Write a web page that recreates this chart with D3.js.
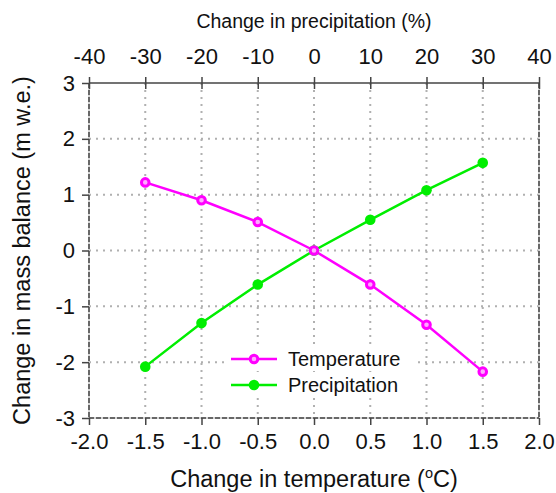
<!DOCTYPE html>
<html><head><meta charset="utf-8">
<script src="https://cdn.jsdelivr.net/npm/d3@7"></script>
<style>
body{margin:0;background:#fff;}
text{font-family:"Liberation Sans",Arial,sans-serif;}
</style></head>
<body><svg id="c" width="556" height="493"></svg>
<script>
const tempX = [-1.5, -1.0, -0.5, 0, 0.5, 1.0, 1.5];
const tempY = [1.22, 0.90, 0.51, 0, -0.61, -1.33, -2.17];
const precX = [-30, -20, -10, 0, 10, 20, 30];
const precY = [-2.08, -1.30, -0.61, 0, 0.55, 1.08, 1.57];
const bottomTicks = [-2.0, -1.5, -1.0, -0.5, 0, 0.5, 1.0, 1.5, 2.0];
const topTicks = [-40, -30, -20, -10, 0, 10, 20, 30, 40];
const yTicks = [-3, -2, -1, 0, 1, 2, 3];
const seriesNames = ["Temperature", "Precipitation"];

const svg = d3.select("#c");
const L = 89, R = 539, T = 83, B = 418;
const x = d3.scaleLinear().domain([-2, 2]).range([L, R]);
const xp = d3.scaleLinear().domain([-40, 40]).range([L, R]);
const y = d3.scaleLinear().domain([-3, 3]).range([B, T]);

// grid
const g = svg.append("g");
g.selectAll(".gv").data(bottomTicks.filter(d => d > -2 && d < 2)).enter().append("line")
  .attr("x1", d => x(d)).attr("x2", d => x(d)).attr("y1", T).attr("y2", B)
  .attr("stroke", "#b0b0b0").attr("stroke-width", 2).attr("stroke-dasharray", "2,5");
g.selectAll(".gh").data(yTicks.filter(d => d > -3 && d < 3)).enter().append("line")
  .attr("x1", L).attr("x2", R).attr("y1", d => y(d)).attr("y2", d => y(d))
  .attr("stroke", "#b0b0b0").attr("stroke-width", 2).attr("stroke-dasharray", "2,5");

// frame (left/right/bottom dashed)
[[L, T, L, B], [R, T, R, B], [L, B, R, B]].forEach(c => {
  svg.append("line").attr("x1", c[0]).attr("y1", c[1]).attr("x2", c[2]).attr("y2", c[3])
    .attr("stroke", "#c8c8c8").attr("stroke-width", 1.5);
  svg.append("line").attr("x1", c[0]).attr("y1", c[1]).attr("x2", c[2]).attr("y2", c[3])
    .attr("stroke", "#444").attr("stroke-width", 1.5).attr("stroke-dasharray", "5,2");
});

function styleAxis(sel) {
  sel.select(".domain").remove();
  sel.selectAll(".tick line").attr("stroke", "#444").attr("stroke-width", 1.5);
  sel.selectAll(".tick text").attr("font-size", 22).attr("fill", "#111")
    .style("font-family", '"Liberation Sans",Arial,sans-serif');
}

// bottom axis
const ax = svg.append("g").attr("transform", `translate(0,${B})`)
  .call(d3.axisBottom(x).tickValues(bottomTicks).tickFormat(d => d.toFixed(1)).tickSize(7).tickPadding(8));
styleAxis(ax);

// top axis
svg.append("line").attr("x1", L).attr("x2", R).attr("y1", T).attr("y2", T)
  .attr("stroke", "#444").attr("stroke-width", 1.5);
const axt = svg.append("g").attr("transform", `translate(0,${T})`)
  .call(d3.axisTop(xp).tickValues(topTicks).tickFormat(d => String(d)).tickSize(6).tickPadding(13));
styleAxis(axt);
axt.selectAll(".tick line").attr("y2", 6).attr("y1", -6);

// left axis
const ay = svg.append("g").attr("transform", `translate(${L},0)`)
  .call(d3.axisLeft(y).tickValues(yTicks).tickFormat(d => String(d)).tickSize(7).tickPadding(7));
styleAxis(ay);

// titles
svg.append("text").attr("x", 314).attr("y", 28).attr("text-anchor", "middle")
  .attr("font-size", 19.5).attr("fill", "#111").text("Change in precipitation (%)");
const bt = svg.append("text").attr("x", 314).attr("y", 487).attr("text-anchor", "middle")
  .attr("font-size", 23.5).attr("fill", "#111");
bt.append("tspan").text("Change in temperature (");
bt.append("tspan").attr("font-size", 14.5).attr("dy", -9).text("o");
bt.append("tspan").attr("dy", 9).text("C)");
svg.append("text").attr("transform", `translate(30,${(T + B) / 2}) rotate(-90)`)
  .attr("text-anchor", "middle").attr("font-size", 23.5).attr("fill", "#111")
  .text("Change in mass balance (m w.e.)");

// series
const magenta = "#ff00ff", green = "#00ee00";
const tData = tempX.map((v, i) => [x(v), y(tempY[i])]);
const pData = precX.map((v, i) => [xp(v), y(precY[i])]);
const line = d3.line();
svg.append("path").attr("d", line(tData)).attr("fill", "none").attr("stroke", magenta).attr("stroke-width", 2.5);
svg.append("path").attr("d", line(pData)).attr("fill", "none").attr("stroke", green).attr("stroke-width", 2.5);
function magMarker(sel, cx, cy) {
  sel.append("circle").attr("cx", cx).attr("cy", cy).attr("r", 3.8)
    .attr("fill", "#ffaaff").attr("stroke", magenta).attr("stroke-width", 3);
}
function grnMarker(sel, cx, cy) {
  sel.append("circle").attr("cx", cx).attr("cy", cy).attr("r", 5.3).attr("fill", green);
}
pData.forEach(p => grnMarker(svg, p[0], p[1]));
tData.forEach(p => magMarker(svg, p[0], p[1]));

// legend
const legY = [359, 385];
const cols = [magenta, green];
legY.forEach((ly, i) => {
  svg.append("rect").attr("x", 226).attr("y", ly - 12).attr("width", 190).attr("height", 24).attr("fill", "#fff");
});
legY.forEach((ly, i) => {
  svg.append("line").attr("x1", 231).attr("x2", 277).attr("y1", ly).attr("y2", ly)
    .attr("stroke", cols[i]).attr("stroke-width", 2.5);
  if (i === 0) magMarker(svg, 254, ly); else grnMarker(svg, 254, ly);
  svg.append("text").attr("x", 288).attr("y", ly + 7).attr("font-size", 20).attr("fill", "#111").text(seriesNames[i]);
});
</script></body></html>
